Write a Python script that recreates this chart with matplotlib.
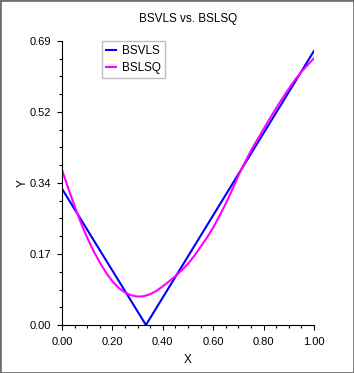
import numpy as np
import matplotlib
matplotlib.use('Agg')
import matplotlib.pyplot as plt
from matplotlib.patches import Rectangle
from matplotlib.ticker import MultipleLocator

# BSVLS: variation-diminishing spline (practically the V shape)
bsvls_x = [0.0, 0.333, 1.0]
bsvls_y = [0.331, 0.0, 0.666]

# BSLSQ: least squares spline
bslsq_x = [0.0, 0.025, 0.05, 0.075, 0.1, 0.125, 0.15, 0.175, 0.2, 0.225,
           0.25, 0.275, 0.3, 0.325, 0.35, 0.375, 0.4, 0.425, 0.45, 0.475,
           0.5, 0.525, 0.55, 0.575, 0.6, 0.625, 0.65, 0.675, 0.7, 0.725,
           0.75, 0.775, 0.8, 0.825, 0.85, 0.875, 0.9, 0.925, 0.95, 0.975, 1.0]
bslsq_y = [0.377, 0.332, 0.289, 0.248, 0.212, 0.180, 0.152, 0.127, 0.106, 0.090,
           0.079, 0.072, 0.069, 0.070, 0.075, 0.083, 0.094, 0.106, 0.119, 0.133,
           0.149, 0.168, 0.190, 0.212, 0.237, 0.265, 0.295, 0.328, 0.363, 0.394,
           0.424, 0.450, 0.476, 0.502, 0.527, 0.551, 0.574, 0.596, 0.615, 0.632, 0.648]

x_ticks = [0.0, 0.2, 0.4, 0.6, 0.8, 1.0]
y_ticks = [0.0, 0.1725, 0.345, 0.5175, 0.69]
y_tick_labels = ['0.00', '0.17', '0.34', '0.52', '0.69']

plt.rcParams['font.family'] = ['Liberation Sans', 'DejaVu Sans']

fig = plt.figure(figsize=(3.54, 3.73), dpi=100)
fig.patch.set_facecolor('white')
ax = fig.add_axes([62 / 354, 1 - 325 / 373, 252 / 354, 284 / 373])

ax.plot(bsvls_x, bsvls_y, color='#0000ff', lw=1.5, label='BSVLS')
ax.plot(bslsq_x, bslsq_y, color='#ff00ff', lw=1.5, label='BSLSQ')

ax.set_xlim(0, 1.0)
ax.set_ylim(0, 0.69)
ax.set_xticks(x_ticks)
ax.set_xticklabels(['%.2f' % v for v in x_ticks])
ax.set_yticks(y_ticks)
ax.set_yticklabels(y_tick_labels)
ax.xaxis.set_minor_locator(MultipleLocator(0.05))
ax.yaxis.set_minor_locator(MultipleLocator(0.69 / 16))

ax.spines['top'].set_visible(False)
ax.spines['right'].set_visible(False)
for s in ['left', 'bottom']:
    ax.spines[s].set_linewidth(0.8)

ax.tick_params(which='major', length=3.6, width=0.8, labelsize=8, pad=4)
ax.tick_params(which='minor', length=2.0, width=0.8)
ax.tick_params(axis='x', which='major', pad=5)

ax.set_xlabel('X', fontsize=8.5, labelpad=5)
ax.set_ylabel('Y', fontsize=8.5, labelpad=1)
ax.set_title('BSVLS vs. BSLSQ', fontsize=8.5, pad=14)

leg = ax.legend(loc='upper left', bbox_to_anchor=(0.157, 1.0), fontsize=8.5,
                fancybox=False, framealpha=1, edgecolor='#c0c0c0',
                handlelength=0.9, handletextpad=0.5, borderpad=0.35,
                labelspacing=0.4, borderaxespad=0)
leg.get_frame().set_linewidth(1.0)

fig.patches.append(Rectangle((0, 0), 1, 1, transform=fig.transFigure,
                             fill=False, edgecolor='#707070', lw=2))

fig.savefig('out.png', dpi=100)
